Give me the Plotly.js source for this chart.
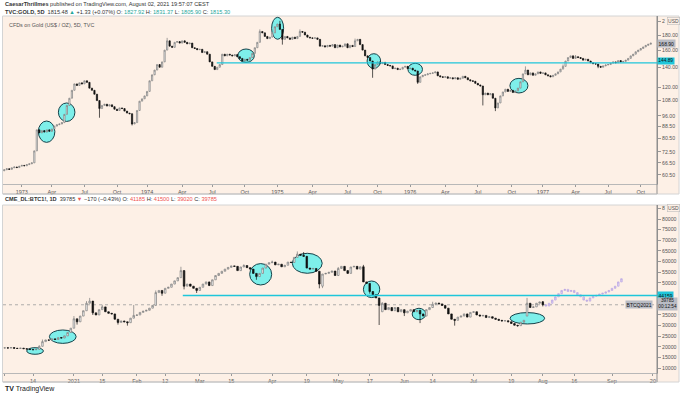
<!DOCTYPE html>
<html><head><meta charset="utf-8">
<script src="https://cdn.plot.ly/plotly-3.0.1.min.js"></script>
<style>html,body{margin:0;padding:0;background:#fff;}#chart{width:680px;height:396px;}</style>
</head><body><div id="chart"></div>
<script>
// ---------- GOLD (weekly / 5D bars), week index 0 = first week of 1973 ----------
const goldFirstWeek = -7;
const goldFirstOpen = 62.5;
const goldClose = [
 63.0,63.5,63.2,64.0,64.4,64.1,64.8,65.2,65.0,65.6,
 66.0,66.5,73.0,86.0,84.0,85.5,84.5,86.0,85.0,86.5,
 88.5,89.5,90.0,91.0,97.0,104.0,110.0,117.0,123.0,121.5,
 124.0,123.0,126.0,124.5,119.0,117.0,113.5,108.0,101.5,104.0,
 105.0,103.5,104.5,103.0,101.0,100.0,102.0,101.5,99.5,98.0,
 97.5,90.0,91.0,100.0,107.5,109.5,112.0,116.0,126.0,132.0,
 137.0,143.0,140.0,146.0,160.0,172.0,165.0,163.5,170.0,171.0,
 169.0,172.0,170.0,168.0,169.0,163.0,162.0,160.5,161.0,157.0,
 158.0,155.0,146.0,141.0,137.5,140.0,143.0,155.0,153.0,155.0,
 154.0,153.0,154.5,152.0,150.0,147.0,149.0,148.0,151.0,156.0,
 163.0,170.0,185.0,183.0,178.0,175.0,177.0,183.0,192.0,196.0,
 188.0,174.0,178.0,176.0,174.0,177.0,175.0,178.0,185.0,184.0,
 180.0,177.0,176.0,175.5,176.0,174.0,165.0,165.5,164.0,166.0,
 165.0,167.0,163.0,166.5,164.0,165.0,168.0,163.0,166.0,164.5,
 172.0,174.0,167.0,160.0,153.0,151.0,147.0,138.0,143.0,146.0,
 144.0,145.5,143.0,142.0,141.5,138.5,139.0,137.5,138.0,140.0,
 141.0,138.5,139.0,137.0,136.0,124.5,130.0,131.5,132.0,133.0,
 133.5,134.0,135.0,131.0,130.0,129.5,130.0,128.5,129.0,128.0,
 129.0,127.5,128.5,130.5,129.0,127.0,126.0,125.5,123.5,122.0,
 121.0,113.0,114.5,113.0,114.0,110.0,102.0,106.0,112.0,115.5,
 118.0,116.0,117.0,115.0,116.5,119.0,125.0,133.0,137.0,132.0,
 134.0,131.5,133.0,135.0,133.5,134.0,132.0,131.0,130.0,131.5,
 133.0,135.0,138.0,141.0,147.0,151.0,153.0,150.0,152.0,151.0,
 150.0,148.0,149.0,147.0,145.0,144.0,143.5,141.0,140.0,141.5,
 142.5,143.0,144.5,146.0,145.0,147.5,146.0,146.5,148.0,150.0,
 153.0,155.0,158.0,160.0,162.0,164.0,166.0,167.5,168.9
];
const goldWickHigh = {58:176, 95:188, 103:201, 111:188, 133:175, 201:141, 216:143, 221:154};
const goldWickLow  = {31:94.5, 44:89, 104:167, 140:129, 158:123, 184:104, 189:99.5, 230:139};
const goldTickWeeks = [0,12,25,38,50,64,76,89,102,116,130,142,155,169,182,195.5,208,221,234,247];
const goldTickText  = ['1973','Apr','Jul','Oct','1974','Apr','Jul','Oct','1975','Apr','Jul','Oct','1976','Apr','Jul','Oct','1977','Apr','Jul','Oct'];
const goldPriceTicks = [200,180,160,140,120,108,96,88.5,80.5,72.5,66.5,60.5];
const goldPriceText  = ['2','180.00','160.00','140.00','120.00','108.00','96.00','88.50','80.50','72.50','66.50','60.50'];
const goldLevel = 144.89;
const goldLast = 168.90;
// highlighted zones: [week from, week to, price low, price high]
const goldCircles = [[6.6,13.2,78,92.1],[14.6,21.2,91.8,106],[86.2,92.8,145.4,161.4],[99.7,104.5,174.1,206.6],[137.8,143.2,138.8,155.6],[154.1,159.9,131.5,144.4],[194.8,202,114.6,128.4]];
const goldLevelFromWeek = 77.8;

// ---------- CME BTC1! daily, trading-day index 0 = 1 Dec 2020 ----------
const btcFirstOpen = 19500;
const btcClose = [
 19600,19500,19700,19400,19300,19450,19200,19000,18800,18700,
 18900,20300,22500,23300,23200,23800,23500,24400,24200,25200,
 26800,28800,33200,31800,34500,37000,40500,41500,36000,35000,
 37500,38800,36500,35800,35500,33000,31500,32200,31800,31400,
 33500,34800,35000,36200,36800,37200,38200,39500,45500,46500,
 45200,47500,48000,49500,51000,52500,55800,48500,49500,48500,
 47500,46500,48000,49500,50500,48800,51500,53500,54500,55500,
 56500,57300,58000,57800,55800,57500,58200,57200,56500,54500,
 53000,54500,57000,58800,59500,59800,58500,58800,57600,58300,
 59800,59600,62000,63500,63000,62500,57000,56500,56800,55500,
 49500,54200,54500,55000,55600,53500,56800,57800,55800,54500,
 57500,57800,56500,57600,50500,49800,46000,44500,43000,39500,
 40500,37500,38500,37000,38500,36500,37500,36000,36800,37500,
 36500,37200,35500,34500,37500,38500,40000,40600,40200,39500,
 38200,35500,33000,32500,34000,34500,35500,34000,36200,36500,
 35000,34500,34800,33800,34200,33500,33000,32500,32200,32300,
 31800,31000,30200,30000,31600,32500,40500,38500,38800,40500,
 41100,39785
];
const btcOpenGap = {101:48500, 120:36500, 166:34500, 171:41185};
const btcWickHigh = {11:20800,12:23500,22:34500,26:41500,27:43000,31:39800,41:39700,48:46500,56:57600,76:58800,85:60500,93:64800,95:64500,106:57500,114:58500,120:41000,136:41200,166:43000,171:41500};
const btcWickLow  = {23:30500,28:35000,36:30500,39:30000,50:44000,57:47000,61:45300,80:51500,100:47500,101:47600,116:45000,119:30300,127:34500,132:31200,143:30000,163:29500,171:39020};
// projected path (idx 172..196)
const btcProjClose = [39200,40500,42000,43500,45000,46500,47000,46000,46500,45500,44500,43500,42000,41500,43000,43800,44200,44800,45200,45800,46500,47500,48500,50500,52000];
const btcTickDays = [0,9,22,31,42,51,62,72,85,96,106,116,127,136,149,161,171,181,193,206];
const btcTickText = ['Dec','14','2021','15','Feb','12','Mar','15','Apr','19','May','17','Jun','14','Jul','19','Aug','16','Sep','20'];
const btcPriceTicks = [10000,15000,20000,25000,30000,35000,50000,55000,60000,65000,70000,75000,80000,85000];
const btcPriceText  = ['10000','15000','20000','25000','30000','35000','50000','55000','60000','65000','70000','75000','80000','8'];
const btcLevel = 44159;
const btcLast = 39785;
const btcCircles = [[7,12.3,16578,19672],[14.2,22.7,21687,27969],[77.85,84.85,49063,59094],[91.4,100.9,54547,63922],[114,119.2,43156,50938],[129.5,133.8,32797,38141],[160.6,171.6,30781,36125]];
const btcLevelFromDay = 56.6;

// ---------- helpers ----------
function buildOHLC(first, closes, firstOpen, gaps, highs, lows){
  const x=[],o=[],h=[],l=[],c=[];
  let prev = firstOpen;
  closes.forEach((cl,i)=>{
    const idx = first+i;
    const op = (gaps && gaps[idx]!==undefined) ? gaps[idx] : prev;
    x.push(idx); o.push(op); c.push(cl);
    h.push(Math.max(op,cl,highs[idx]!==undefined?highs[idx]:-Infinity));
    l.push(Math.min(op,cl,lows[idx]!==undefined?lows[idx]:Infinity));
    prev = cl;
  });
  return {x,o,h,l,c};
}
const g = buildOHLC(goldFirstWeek, goldClose, goldFirstOpen, null, goldWickHigh, goldWickLow);
const b = buildOHLC(0, btcClose, btcFirstOpen, btcOpenGap, btcWickHigh, btcWickLow);
const p = buildOHLC(btcClose.length, btcProjClose, btcLast, null, {}, {});

const W=680,H=396,ML=3,MR=23,MT=16,MB=23;
const PW=W-ML-MR, PH=H-MT-MB;
const px=v=>(v-ML)/PW, py=v=>(H-MB-v)/PH;

const PEACH='#fdf0e6', BORDER='#d4d4d4', AXIS='#8f8f8f', CYAN='#1fc6da';
const upStyle = {line:{color:'#7a7a7a',width:0.7},fillcolor:'#fbfbfb'};
const dnStyle = {line:{color:'#111111',width:0.7},fillcolor:'#111111'};
const projStyle = {line:{color:'#b7a3e3',width:0.7},fillcolor:'#e3d9f6'};

const traces = [
 {type:'candlestick',x:g.x,open:g.o,high:g.h,low:g.l,close:g.c,xaxis:'x',yaxis:'y',increasing:upStyle,decreasing:dnStyle,whiskerwidth:0,hoverinfo:'skip',showlegend:false},
 {type:'candlestick',x:b.x,open:b.o,high:b.h,low:b.l,close:b.c,xaxis:'x2',yaxis:'y2',increasing:upStyle,decreasing:dnStyle,whiskerwidth:0,hoverinfo:'skip',showlegend:false},
 {type:'candlestick',x:p.x,open:p.o,high:p.h,low:p.l,close:p.c,xaxis:'x2',yaxis:'y2',increasing:projStyle,decreasing:projStyle,whiskerwidth:0,hoverinfo:'skip',showlegend:false}
];

const fmt2 = v=>v.toFixed(2);
const axisX = {showgrid:false,zeroline:false,showline:true,linecolor:'#b8b8b8',linewidth:1,ticks:'outside',ticklen:2,tickcolor:'#999',tickfont:{size:5.5,color:'#555'},rangeslider:{visible:false},fixedrange:true,tickmode:'array'};
const axisY = {side:'right',showgrid:false,zeroline:false,showline:true,linecolor:AXIS,linewidth:1,ticks:'outside',ticklen:3,tickcolor:'#999',tickfont:{size:5.2,color:'#555'},fixedrange:true,tickmode:'array'};

const shapes = [
 {type:'rect',xref:'paper',yref:'paper',x0:px(2.5),x1:px(679),y0:py(194),y1:py(16),fillcolor:PEACH,line:{color:BORDER,width:1},layer:'below'},
 {type:'rect',xref:'paper',yref:'paper',x0:px(2.5),x1:px(679),y0:py(382),y1:py(205),fillcolor:PEACH,line:{color:BORDER,width:1},layer:'below'},
 {type:'line',xref:'paper',yref:'paper',x0:1,x1:1,y0:py(194),y1:py(16),line:{color:AXIS,width:1}},
 {type:'line',xref:'paper',yref:'paper',x0:1,x1:1,y0:py(382),y1:py(205),line:{color:AXIS,width:1}},
 {type:'line',xref:'paper',yref:'paper',x0:0,x1:1,y0:py(194),y1:py(194),line:{color:'#bdbdbd',width:1}},
 {type:'line',xref:'paper',yref:'paper',x0:0,x1:1,y0:py(382),y1:py(382),line:{color:'#bdbdbd',width:1}},
 {type:'line',xref:'paper',yref:'y2',x0:0,x1:1,y0:btcLast,y1:btcLast,line:{color:'#9a9a9a',width:0.8,dash:'dot'},layer:'below'}
];
goldCircles.forEach(c=>shapes.push({type:'circle',xref:'x',yref:'y',x0:c[0],x1:c[1],y0:c[2],y1:c[3],fillcolor:'rgba(0,238,238,0.5)',line:{color:'#16424a',width:1},layer:'below'}));
btcCircles.forEach(c=>shapes.push({type:'circle',xref:'x2',yref:'y2',x0:c[0],x1:c[1],y0:c[2],y1:c[3],fillcolor:'rgba(0,238,238,0.5)',line:{color:'#16424a',width:1},layer:'below'}));
shapes.push({type:'line',xref:'x',yref:'y',x0:goldLevelFromWeek,x1:253.5,y0:goldLevel,y1:goldLevel,line:{color:CYAN,width:1.4}});
shapes.push({type:'line',xref:'x2',yref:'y2',x0:btcLevelFromDay,x1:207.3,y0:btcLevel,y1:btcLevel,line:{color:CYAN,width:1.4}});

const TEAL='#26a69a', RED='#ef5350';
const ann = (o)=>Object.assign({showarrow:false,xanchor:'left',yanchor:'middle',font:{size:5.6,color:'#333'}},o);
const annotations = [
 ann({xref:'paper',yref:'paper',x:px(3),y:py(4.5),text:'<b>CaesarThrillmes</b> published on TradingView.com, August 02, 2021 19:57:07 CEST'}),
 ann({xref:'paper',yref:'paper',x:px(3),y:py(12),text:'<b>TVC:GOLD, 5D</b>  1815.48 <span style="color:'+TEAL+'">▲</span> +1.33 (+0.07%) O: <span style="color:'+TEAL+'">1827.92</span> H: <span style="color:'+TEAL+'">1831.37</span> L: <span style="color:'+TEAL+'">1805.90</span> C: <span style="color:'+TEAL+'">1815.30</span>'}),
 ann({xref:'paper',yref:'paper',x:px(7),y:py(25),text:'CFDs on Gold (US$ / OZ), 5D, TVC',font:{size:5.4,color:'#555'}}),
 ann({xref:'paper',yref:'paper',x:px(3),y:py(199.5),text:'<b>CME_DL:BTC1!, 1D</b>  39785 <span style="color:'+RED+'">▼</span> −170 (−0.43%) O: <span style="color:'+RED+'">41185</span> H: <span style="color:'+RED+'">41500</span> L: <span style="color:'+RED+'">39020</span> C: <span style="color:'+RED+'">39785</span>'}),
 ann({xref:'paper',yref:'paper',x:px(3),y:py(388.5),text:'<b>TV</b> TradingView',font:{size:7,color:'#222'}}),
 ann({xref:'paper',yref:'paper',x:px(666.5),y:py(21.5),text:'USD',bgcolor:PEACH,bordercolor:'#bdbdbd',borderwidth:0.6,borderpad:0.5,font:{size:5,color:'#555'}}),
 ann({xref:'paper',yref:'paper',x:px(666.5),y:py(208.3),text:'USD',bgcolor:PEACH,bordercolor:'#bdbdbd',borderwidth:0.6,borderpad:0.5,font:{size:5,color:'#555'}}),
 ann({xref:'paper',yref:'y',x:1,y:Math.log10(goldLast),text:fmt2(goldLast),bgcolor:'#b9bcc4',borderpad:0.6,font:{size:5,color:'#111'}}),
 ann({xref:'paper',yref:'y',x:1,y:Math.log10(goldLevel),yshift:2,text:fmt2(goldLevel),bgcolor:CYAN,borderpad:0.3,font:{size:4.8,color:'#111'}}),
 ann({xref:'paper',yref:'y2',x:1,y:btcLevel,text:String(btcLevel),bgcolor:CYAN,borderpad:0.6,font:{size:5,color:'#111'}}),
 ann({xref:'paper',yref:'y2',x:1,y:btcLast,yshift:1,text:String(btcLast)+'<br>00:12:54',bgcolor:'#b9bcc4',borderpad:0.3,font:{size:4.7,color:'#111'}}),
 ann({xref:'paper',yref:'y2',x:1,xshift:-4,xanchor:'right',y:btcLast,text:'BTCQ2021',bgcolor:'#b9bcc4',borderpad:0.6,font:{size:5,color:'#111'}})
];

const layout = {
 width:W,height:H,margin:{l:ML,r:MR,t:MT,b:MB,pad:0},
 paper_bgcolor:'#ffffff',plot_bgcolor:'rgba(0,0,0,0)',showlegend:false,dragmode:false,
 font:{family:'Liberation Sans, Arial, sans-serif',size:5.5,color:'#444'},
 xaxis:Object.assign({},axisX,{domain:[0,1],anchor:'y',range:[-7.5,253.5],tickvals:goldTickWeeks,ticktext:goldTickText}),
 yaxis:Object.assign({},axisY,{domain:[py(184),1],anchor:'x',type:'log',range:[Math.log10(56.4),Math.log10(208.7)],tickvals:goldPriceTicks,ticktext:goldPriceText}),
 xaxis2:Object.assign({},axisX,{domain:[0,1],anchor:'y2',range:[-0.54,207.3],tickvals:btcTickDays,ticktext:btcTickText}),
 yaxis2:Object.assign({},axisY,{domain:[0,py(205)],anchor:'x2',range:[7800,86563],tickvals:btcPriceTicks,ticktext:btcPriceText}),
 shapes:shapes,annotations:annotations
};
Plotly.newPlot('chart',traces,layout,{displayModeBar:false,staticPlot:true});
</script></body></html>
